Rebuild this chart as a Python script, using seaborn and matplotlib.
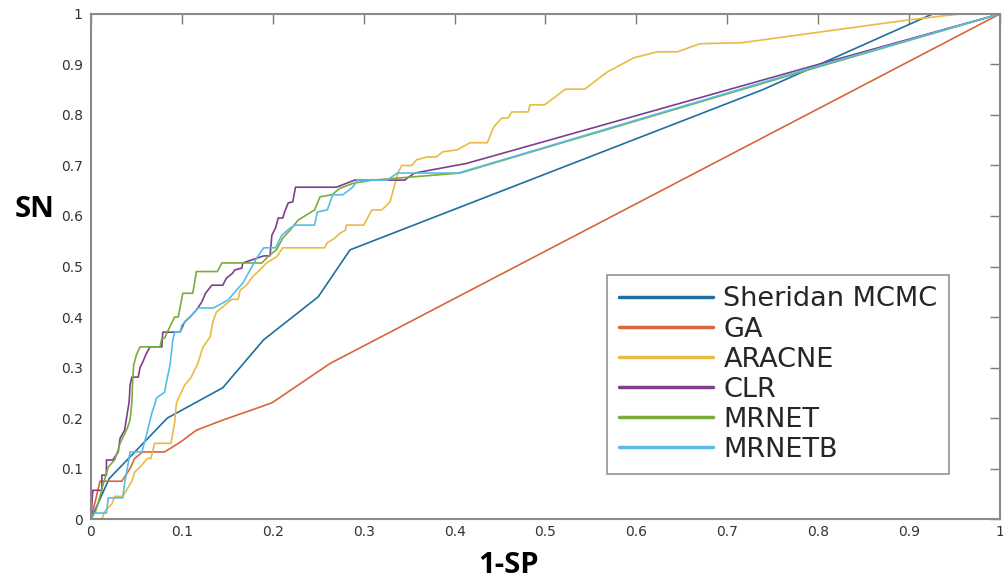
import numpy as np
import pandas as pd
import matplotlib
matplotlib.use("Agg")
import matplotlib.pyplot as plt
import seaborn as sns

# ---- data ----
methods = ["Sheridan MCMC", "GA", "ARACNE", "CLR", "MRNET", "MRNETB"]

sheridan_x = [0, 0.02, 0.084, 0.145, 0.19, 0.25, 0.285, 0.739, 0.926, 1.0]
sheridan_y = [0, 0.08, 0.20, 0.26, 0.355, 0.44, 0.533, 0.85, 1.0, 1.0]

ga_x = [0, 0.01, 0.034, 0.043, 0.048, 0.057, 0.081, 0.098, 0.116, 0.145, 0.199, 0.263, 1.0]
ga_y = [0, 0.075, 0.075, 0.10, 0.12, 0.133, 0.133, 0.152, 0.176, 0.196, 0.23, 0.308, 1.0]

aracne_x = [0, 0.012, 0.015, 0.023, 0.026, 0.035, 0.04, 0.045, 0.048, 0.055, 0.062, 0.066,
            0.07, 0.088, 0.092, 0.094, 0.103, 0.11, 0.118, 0.123, 0.131, 0.134, 0.138, 0.145,
            0.155, 0.162, 0.164, 0.171, 0.178, 0.188, 0.193, 0.204, 0.211, 0.257, 0.26, 0.268,
            0.274, 0.28, 0.281, 0.30, 0.309, 0.32, 0.329, 0.338, 0.342, 0.353, 0.358, 0.37,
            0.38, 0.387, 0.403, 0.417, 0.436, 0.443, 0.452, 0.459, 0.463, 0.481, 0.483, 0.499,
            0.522, 0.543, 0.568, 0.597, 0.623, 0.645, 0.67, 0.716, 0.899, 0.956, 1.0]
aracne_y = [0, 0, 0.015, 0.03, 0.045, 0.045, 0.06, 0.075, 0.093, 0.105, 0.12, 0.12,
            0.15, 0.15, 0.19, 0.23, 0.265, 0.28, 0.31, 0.34, 0.36, 0.39, 0.41, 0.42,
            0.435, 0.435, 0.453, 0.463, 0.48, 0.497, 0.507, 0.519, 0.537, 0.537, 0.547, 0.556,
            0.566, 0.572, 0.582, 0.582, 0.612, 0.612, 0.628, 0.687, 0.70, 0.70, 0.711, 0.717,
            0.717, 0.727, 0.731, 0.745, 0.745, 0.776, 0.794, 0.794, 0.806, 0.806, 0.82, 0.82,
            0.851, 0.851, 0.885, 0.913, 0.925, 0.925, 0.941, 0.943, 0.988, 1.0, 1.0]

clr_x = [0, 0.002, 0.012, 0.012, 0.017, 0.017, 0.024, 0.03, 0.032, 0.037, 0.04, 0.042, 0.043,
         0.045, 0.052, 0.054, 0.057, 0.061, 0.065, 0.078, 0.079, 0.098, 0.103, 0.111, 0.116,
         0.122, 0.126, 0.133, 0.145, 0.149, 0.156, 0.158, 0.166, 0.167, 0.19, 0.197, 0.199,
         0.203, 0.206, 0.211, 0.213, 0.217, 0.222, 0.225, 0.27, 0.29, 0.345, 0.356, 0.413,
         0.8, 1.0]
clr_y = [0, 0.057, 0.057, 0.087, 0.087, 0.117, 0.117, 0.133, 0.16, 0.176, 0.21, 0.232, 0.265,
         0.281, 0.281, 0.30, 0.311, 0.328, 0.341, 0.341, 0.37, 0.37, 0.39, 0.404, 0.414,
         0.43, 0.447, 0.463, 0.463, 0.477, 0.487, 0.493, 0.497, 0.507, 0.521, 0.521, 0.562,
         0.576, 0.596, 0.596, 0.608, 0.626, 0.628, 0.657, 0.657, 0.671, 0.671, 0.685, 0.704,
         0.90, 1.0]

mrnet_x = [0, 0.005, 0.008, 0.012, 0.019, 0.026, 0.03, 0.032, 0.04, 0.043, 0.045, 0.046,
           0.047, 0.05, 0.054, 0.076, 0.078, 0.081, 0.085, 0.092, 0.096, 0.101, 0.112, 0.116,
           0.139, 0.144, 0.188, 0.195, 0.204, 0.211, 0.219, 0.228, 0.237, 0.246, 0.252, 0.265,
           0.274, 0.289, 0.31, 0.406, 0.8, 1.0]
mrnet_y = [0, 0.015, 0.032, 0.06, 0.103, 0.117, 0.137, 0.15, 0.18, 0.196, 0.232, 0.28,
           0.305, 0.325, 0.341, 0.341, 0.358, 0.358, 0.374, 0.40, 0.40, 0.447, 0.447, 0.49,
           0.49, 0.507, 0.507, 0.52, 0.533, 0.556, 0.572, 0.592, 0.602, 0.612, 0.638, 0.642,
           0.655, 0.665, 0.671, 0.685, 0.895, 1.0]

mrnetb_x = [0, 0.004, 0.017, 0.019, 0.035, 0.037, 0.04, 0.043, 0.056, 0.061, 0.067, 0.07,
            0.072, 0.081, 0.083, 0.087, 0.09, 0.092, 0.098, 0.1, 0.109, 0.118, 0.135, 0.151,
            0.16, 0.167, 0.175, 0.182, 0.19, 0.203, 0.21, 0.219, 0.225, 0.246, 0.249, 0.26,
            0.266, 0.277, 0.288, 0.293, 0.326, 0.337, 0.404, 0.8, 1.0]
mrnetb_y = [0, 0.012, 0.012, 0.042, 0.042, 0.071, 0.10, 0.133, 0.133, 0.166, 0.21, 0.226,
            0.24, 0.251, 0.271, 0.305, 0.354, 0.37, 0.37, 0.384, 0.40, 0.418, 0.418, 0.434,
            0.453, 0.467, 0.493, 0.516, 0.537, 0.537, 0.562, 0.576, 0.582, 0.582, 0.608, 0.612,
            0.642, 0.642, 0.657, 0.671, 0.671, 0.685, 0.685, 0.897, 1.0]

tick_values = [0, 0.1, 0.2, 0.3, 0.4, 0.5, 0.6, 0.7, 0.8, 0.9, 1]
tick_labels = ["0", "0.1", "0.2", "0.3", "0.4", "0.5", "0.6", "0.7", "0.8", "0.9", "1"]

colors = ["#1f6f9f", "#d9653b", "#e9bb45", "#7e3f8e", "#7aac3a", "#55bde6"]

# ---- build long table ----
series = [(sheridan_x, sheridan_y), (ga_x, ga_y), (aracne_x, aracne_y),
          (clr_x, clr_y), (mrnet_x, mrnet_y), (mrnetb_x, mrnetb_y)]
frames = []
for name, (xs, ys) in zip(methods, series):
    frames.append(pd.DataFrame({"fpr": xs, "tpr": ys, "method": name}))
df = pd.concat(frames, ignore_index=True)

sns.set_theme(style="white")
plt.rcParams["font.family"] = ["DejaVu Sans"]

fig = plt.figure(figsize=(10.04, 5.8), dpi=100)
ax = fig.add_axes([0.0906, 0.105, 0.9054, 0.871])

sns.lineplot(data=df, x="fpr", y="tpr", hue="method", hue_order=methods,
             palette=dict(zip(methods, colors)), estimator=None, sort=False,
             units="method", linewidth=1.2, ax=ax)

ax.set_xlim(0, 1)
ax.set_ylim(0, 1)
ax.set_xticks(tick_values)
ax.set_xticklabels(tick_labels)
ax.set_yticks(tick_values)
ax.set_yticklabels(tick_labels)

for s in ax.spines.values():
    s.set_visible(True)
    s.set_color("#8a8a8a")
    s.set_linewidth(1.5)

ax.tick_params(axis="both", which="both", direction="in", top=True, right=True,
               length=7, width=1.0, color="#7a7a7a", labelcolor="#333333",
               labelsize=10)
ax.tick_params(axis="x", pad=4)
ax.tick_params(axis="y", pad=6)

ax.set_xlabel("1-SP", fontsize=21, fontweight="bold", family=["Open Sans", "DejaVu Sans"],
              color="black", va="center", ha="center")
ax.xaxis.set_label_coords(0.459, -0.091)
ax.set_ylabel("SN", fontsize=21, fontweight="bold", family=["Open Sans", "DejaVu Sans"],
              rotation=0, color="black", ha="center", va="center")
ax.yaxis.set_label_coords(-0.062, 0.612)

leg = ax.legend(loc="upper left", bbox_to_anchor=(0.568, 0.483), frameon=True,
                fancybox=False, fontsize=19.5, handlelength=3.5, handletextpad=0.37,
                labelspacing=0.15, borderpad=0.42, borderaxespad=0.0, title=None)
leg.get_frame().set_edgecolor("#777777")
leg.get_frame().set_linewidth(1.2)
for ln in leg.get_lines():
    ln.set_linewidth(2.5)

fig.savefig("out.png", dpi=100)
